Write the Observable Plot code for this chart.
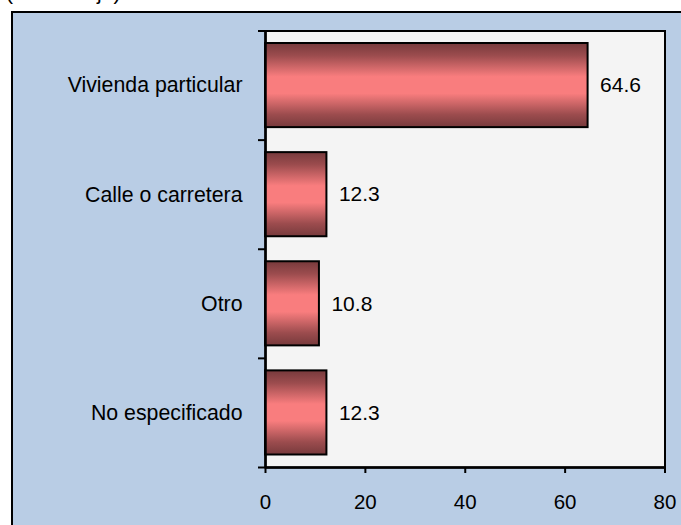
<!DOCTYPE html>
<html>
<head>
<meta charset="utf-8">
<script src="https://cdn.jsdelivr.net/npm/d3@7"></script>
<script src="https://cdn.jsdelivr.net/npm/@observablehq/plot@0.6"></script>
<style>
  html, body { margin: 0; padding: 0; background: #ffffff; overflow: hidden; }
  #wrap { position: relative; width: 681px; height: 525px; overflow: hidden; font-family: Arial, "Liberation Sans", sans-serif; }
  #title { position: absolute; left: 6px; top: -18px; font-size: 21px; line-height: 21px; color: #000; white-space: nowrap; }
  #panel { position: absolute; left: 11px; top: 11px; width: 700px; height: 560px; background: #b9cde5; border: 2px solid #000; }
  #chart { position: absolute; left: 0; top: 0; }
</style>
</head>
<body>
<div id="wrap">
  <div id="title">(Porcentaje)</div>
  <div id="panel"></div>
  <div id="chart"></div>
</div>
<script>
const categories = ["Vivienda particular", "Calle o carretera", "Otro", "No especificado"];
const values = [64.6, 12.3, 10.8, 12.3];
const xTicks = [0, 20, 40, 60, 80];

const data = categories.map((c, i) => ({cat: c, idx: i, value: values[i]}));
const bandEdges = d3.range(categories.length + 1);
const bandCenters = categories.map((c, i) => i + 0.5);

const svg = Plot.plot({
  width: 681,
  height: 525,
  marginLeft: 265,
  marginRight: 16.5,
  marginTop: 30.5,
  marginBottom: 58,
  style: {background: "transparent", fontFamily: "Arial, 'Liberation Sans', sans-serif", fontSize: "21px", color: "#000", overflow: "visible"},
  x: {domain: [0, 80], label: null},
  y: {domain: [0, categories.length], reverse: true, label: null},
  marks: [
    Plot.frame({fill: "#f4f4f4", stroke: "#000", strokeWidth: 2}),
    Plot.rectX(data, {
      x1: 0, x2: "value", y1: "idx", y2: d => d.idx + 1,
      insetTop: 12.5, insetBottom: 12.5,
      fill: "url(#barGrad)", stroke: "#000", strokeWidth: 2
    }),
    Plot.text(data, {x: "value", y: d => d.idx + 0.5, text: d => d.value.toFixed(1), textAnchor: "start", dx: 12, fontSize: 21, fill: "#000"}),
    Plot.ruleX([0], {stroke: "#000", strokeWidth: 2.5}),
    Plot.ruleY([categories.length], {stroke: "#000", strokeWidth: 2.5}),
    Plot.axisX({ticks: xTicks, tickSize: 6, tickPadding: 21, strokeWidth: 2, label: null, fontSize: 20.5}),
    Plot.axisY({ticks: bandEdges, tickSize: 7, strokeWidth: 2, tickFormat: () => "", label: null}),
    Plot.axisY({ticks: bandCenters, tickSize: 0, tickPadding: 23, tickFormat: v => categories[Math.floor(v)], label: null, fontSize: 21.3})
  ]
});

d3.select(svg).insert("defs", ":first-child").html(`
  <linearGradient id="barGrad" x1="0" y1="0" x2="0" y2="1">
    <stop offset="0" stop-color="#773a3c"/>
    <stop offset="0.15" stop-color="#9c4c4e"/>
    <stop offset="0.4" stop-color="#f97d7e"/>
    <stop offset="0.6" stop-color="#f97d7e"/>
    <stop offset="0.85" stop-color="#9c4c4e"/>
    <stop offset="1" stop-color="#773a3c"/>
  </linearGradient>`);

document.getElementById("chart").appendChild(svg);
</script>
</body>
</html>
